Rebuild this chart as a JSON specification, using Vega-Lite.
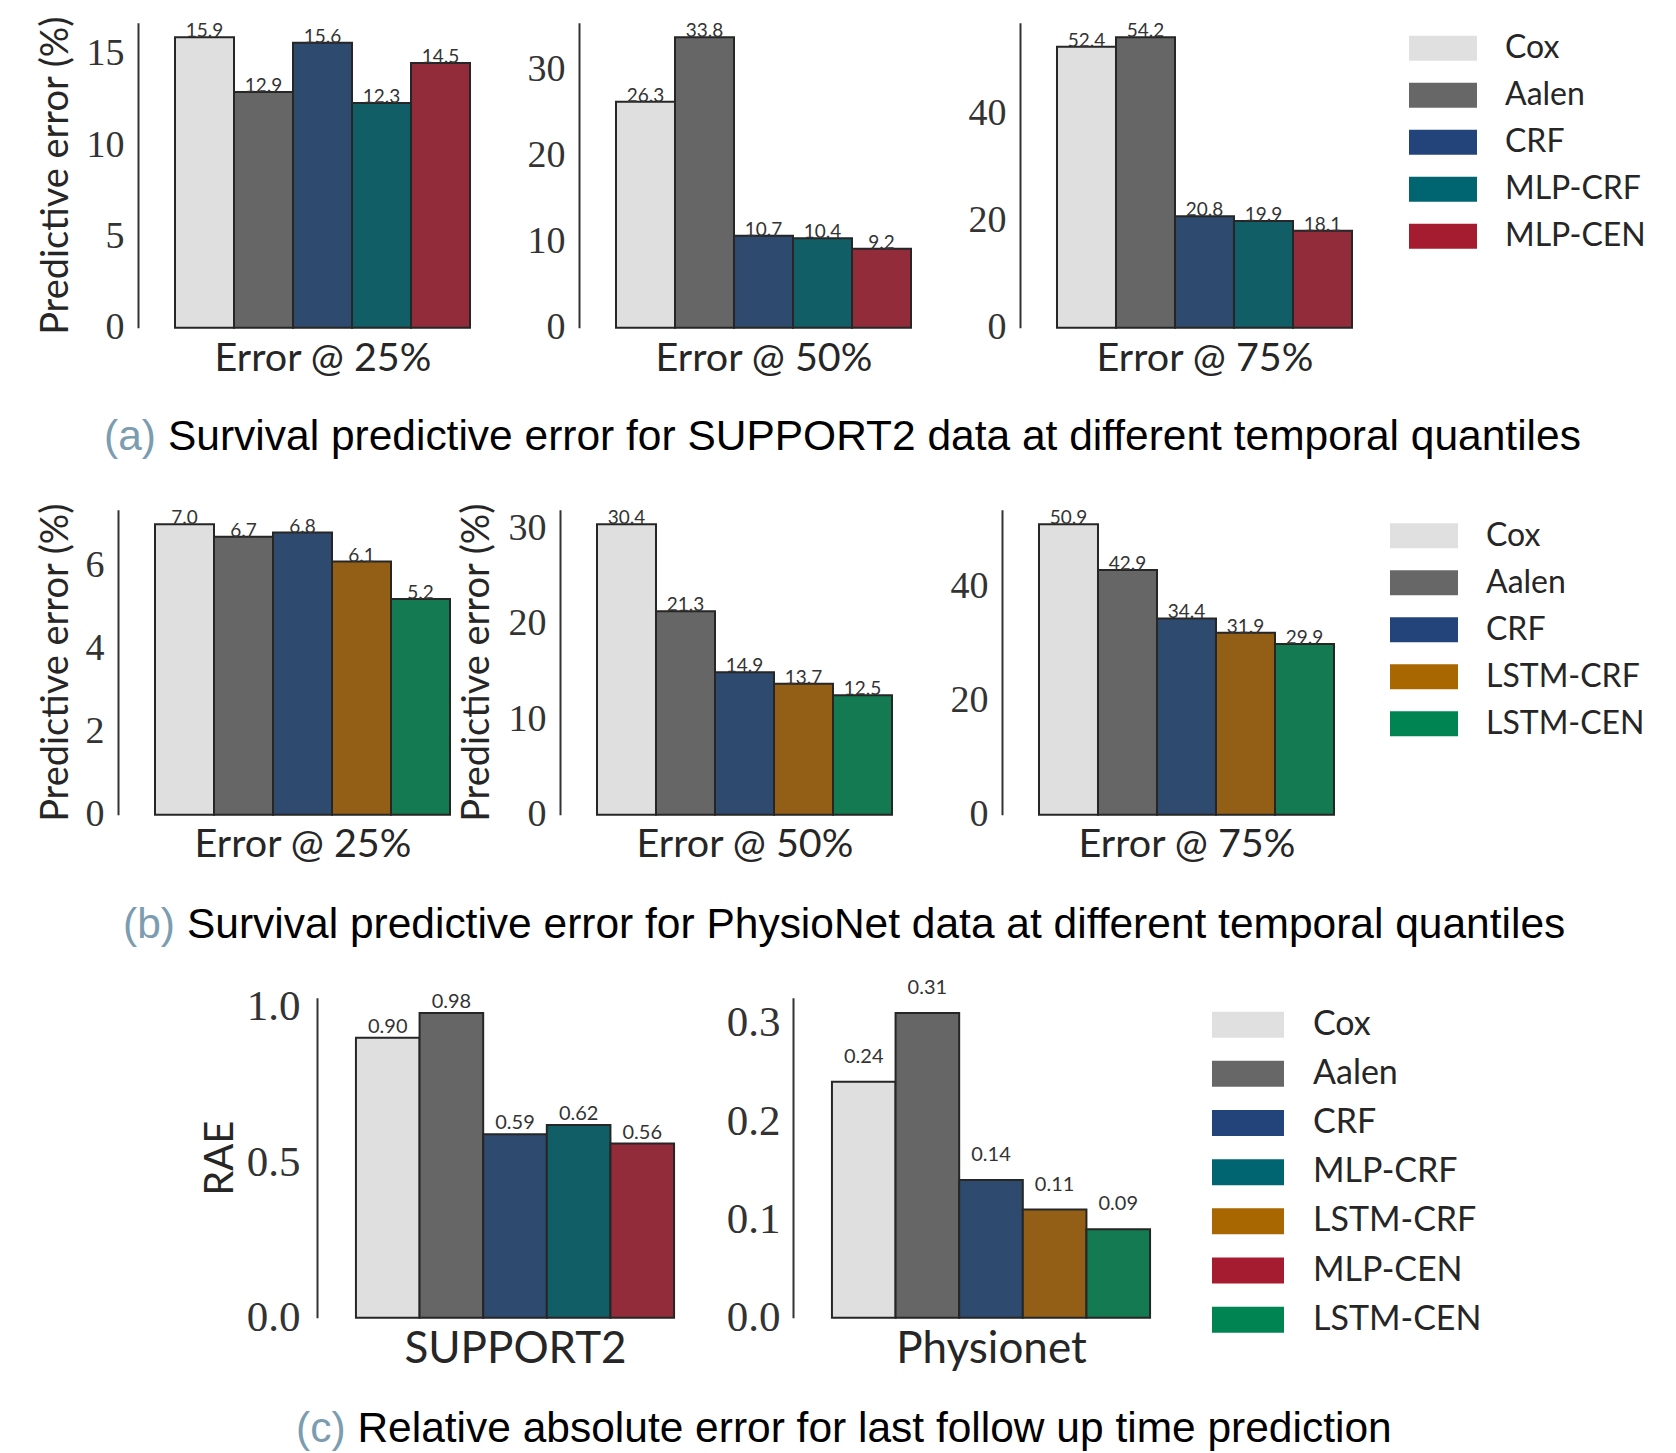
{
  "$schema": "https://vega.github.io/schema/vega-lite/v6.json",
  "background": "white",
  "padding": {"left": 0, "top": 14.7, "right": 0, "bottom": 0},
  "spacing": 0,
  "config": {
    "view": {"stroke": null},
    "axis": {"grid": false, "ticks": false, "tickSize": 0, "labelFont": "Liberation Serif", "labelColor": "#333333", "titleFont": "Lato", "titleFontWeight": "normal", "titleColor": "#262626", "domainColor": "#333333", "domainWidth": 2},
    "axisX": {"labels": false, "domain": false, "minExtent": 0, "maxExtent": 0, "titleBaseline": "alphabetic"},
    "axisY": {"titleBaseline": "alphabetic"}
  },
  "datasets": {
    "a25": [{"model": "Cox", "value": 15.9}, {"model": "Aalen", "value": 12.9}, {"model": "CRF", "value": 15.6}, {"model": "MLP-CRF", "value": 12.3}, {"model": "MLP-CEN", "value": 14.5}],
    "a50": [{"model": "Cox", "value": 26.3}, {"model": "Aalen", "value": 33.8}, {"model": "CRF", "value": 10.7}, {"model": "MLP-CRF", "value": 10.4}, {"model": "MLP-CEN", "value": 9.2}],
    "a75": [{"model": "Cox", "value": 52.4}, {"model": "Aalen", "value": 54.2}, {"model": "CRF", "value": 20.8}, {"model": "MLP-CRF", "value": 19.9}, {"model": "MLP-CEN", "value": 18.1}],
    "b25": [{"model": "Cox", "value": 7.0}, {"model": "Aalen", "value": 6.7}, {"model": "CRF", "value": 6.8}, {"model": "LSTM-CRF", "value": 6.1}, {"model": "LSTM-CEN", "value": 5.2}],
    "b50": [{"model": "Cox", "value": 30.4}, {"model": "Aalen", "value": 21.3}, {"model": "CRF", "value": 14.9}, {"model": "LSTM-CRF", "value": 13.7}, {"model": "LSTM-CEN", "value": 12.5}],
    "b75": [{"model": "Cox", "value": 50.9}, {"model": "Aalen", "value": 42.9}, {"model": "CRF", "value": 34.4}, {"model": "LSTM-CRF", "value": 31.9}, {"model": "LSTM-CEN", "value": 29.9}],
    "cSupport": [{"model": "Cox", "value": 0.90}, {"model": "Aalen", "value": 0.98}, {"model": "CRF", "value": 0.59}, {"model": "MLP-CRF", "value": 0.62}, {"model": "MLP-CEN", "value": 0.56}],
    "cPhysio": [{"model": "Cox", "value": 0.24}, {"model": "Aalen", "value": 0.31}, {"model": "CRF", "value": 0.14}, {"model": "LSTM-CRF", "value": 0.11}, {"model": "LSTM-CEN", "value": 0.09}],
    "legendC": [{"model": "Cox"}, {"model": "Aalen"}, {"model": "CRF"}, {"model": "MLP-CRF"}, {"model": "LSTM-CRF"}, {"model": "MLP-CEN"}, {"model": "LSTM-CEN"}],
    "capA": [{"tag": "(a)", "body": "Survival predictive error for SUPPORT2 data at different temporal quantiles"}],
    "capB": [{"tag": "(b)", "body": "Survival predictive error for PhysioNet data at different temporal quantiles"}],
    "capC": [{"tag": "(c)", "body": "Relative absolute error for last follow up time prediction"}]
  },
  "vconcat": [
    {
      "bounds": "flush",
      "spacing": 72,
      "hconcat": [
        {"width": 66, "height": 1, "data": {"values": []}, "mark": "point", "encoding": {}},
        {
          "width": 369, "height": 305, "data": {"name": "a25"},
          "encoding": {
            "x": {"field": "model", "type": "nominal", "sort": null, "scale": {"domain": ["Cox", "Aalen", "CRF", "MLP-CRF", "MLP-CEN"], "paddingInner": 0, "paddingOuter": 0.627}, "axis": {"title": "Error @ 25%", "titleFontSize": 39.5, "titlePadding": 43}},
            "y": {"field": "value", "type": "quantitative", "scale": {"domain": [0, 16.7], "nice": false}, "axis": {"values": [0, 5, 10, 15], "format": "d", "title": "Predictive error (%)", "titleFontSize": 38, "titlePadding": 18, "labelFontSize": 38, "labelPadding": 14, "minExtent": 53, "maxExtent": 53}}
          },
          "layer": [
            {"mark": {"type": "bar", "stroke": "#262626", "strokeWidth": 2}, "encoding": {"color": {"field": "model", "type": "nominal", "legend": null, "scale": {"domain": ["Cox", "Aalen", "CRF", "MLP-CRF", "LSTM-CRF", "MLP-CEN", "LSTM-CEN"], "range": ["#dfdfdf", "#666666", "#2e4a6e", "#115e67", "#935f17", "#922b3a", "#137a51"]}}}},
            {"mark": {"type": "text", "baseline": "alphabetic", "dy": 0, "font": "Lato", "fontSize": 19, "color": "#333333"}, "encoding": {"text": {"field": "value", "type": "quantitative", "format": ".1f"}}}
          ]
        },
        {
          "width": 369, "height": 305, "data": {"name": "a50"},
          "encoding": {
            "x": {"field": "model", "type": "nominal", "sort": null, "scale": {"domain": ["Cox", "Aalen", "CRF", "MLP-CRF", "MLP-CEN"], "paddingInner": 0, "paddingOuter": 0.627}, "axis": {"title": "Error @ 50%", "titleFontSize": 39.5, "titlePadding": 43}},
            "y": {"field": "value", "type": "quantitative", "scale": {"domain": [0, 35.49], "nice": false}, "axis": {"values": [0, 10, 20, 30], "format": "d", "title": null, "labelFontSize": 38, "labelPadding": 14}}
          },
          "layer": [
            {"mark": {"type": "bar", "stroke": "#262626", "strokeWidth": 2}, "encoding": {"color": {"field": "model", "type": "nominal", "legend": null, "scale": {"domain": ["Cox", "Aalen", "CRF", "MLP-CRF", "LSTM-CRF", "MLP-CEN", "LSTM-CEN"], "range": ["#dfdfdf", "#666666", "#2e4a6e", "#115e67", "#935f17", "#922b3a", "#137a51"]}}}},
            {"mark": {"type": "text", "baseline": "alphabetic", "dy": 0, "font": "Lato", "fontSize": 19, "color": "#333333"}, "encoding": {"text": {"field": "value", "type": "quantitative", "format": ".1f"}}}
          ]
        },
        {
          "width": 369, "height": 305, "data": {"name": "a75"},
          "encoding": {
            "x": {"field": "model", "type": "nominal", "sort": null, "scale": {"domain": ["Cox", "Aalen", "CRF", "MLP-CRF", "MLP-CEN"], "paddingInner": 0, "paddingOuter": 0.627}, "axis": {"title": "Error @ 75%", "titleFontSize": 39.5, "titlePadding": 43}},
            "y": {"field": "value", "type": "quantitative", "scale": {"domain": [0, 56.91], "nice": false}, "axis": {"values": [0, 20, 40], "format": "d", "title": null, "labelFontSize": 38, "labelPadding": 14}}
          },
          "layer": [
            {"mark": {"type": "bar", "stroke": "#262626", "strokeWidth": 2}, "encoding": {"color": {"field": "model", "type": "nominal", "legend": null, "scale": {"domain": ["Cox", "Aalen", "CRF", "MLP-CRF", "LSTM-CRF", "MLP-CEN", "LSTM-CEN"], "range": ["#dfdfdf", "#666666", "#2e4a6e", "#115e67", "#935f17", "#922b3a", "#137a51"]}}}},
            {"mark": {"type": "text", "baseline": "alphabetic", "dy": 0, "font": "Lato", "fontSize": 19, "color": "#333333"}, "encoding": {"text": {"field": "value", "type": "quantitative", "format": ".1f"}}}
          ]
        },
        {
          "width": 2, "height": 239, "data": {"name": "a25"},
          "encoding": {"y": {"field": "model", "type": "nominal", "sort": null, "scale": {"domain": ["Cox", "Aalen", "CRF", "MLP-CRF", "MLP-CEN"], "padding": 0.544}, "axis": null}},
          "layer": [
            {"mark": {"type": "point", "shape": "M-2.72,-1H2.72V1H-2.72Z", "size": 625, "filled": true, "opacity": 1, "strokeWidth": 0, "xOffset": -19}, "encoding": {"fill": {"field": "model", "type": "nominal", "legend": null, "scale": {"domain": ["Cox", "Aalen", "CRF", "MLP-CRF", "LSTM-CRF", "MLP-CEN", "LSTM-CEN"], "range": ["#e0e0e0", "#676767", "#23447a", "#006471", "#a86700", "#a51c30", "#008452"]}}}},
            {"mark": {"type": "text", "align": "left", "baseline": "middle", "dx": 43, "font": "Lato", "fontSize": 32, "color": "#262626"}, "encoding": {"text": {"field": "model"}}}
          ]
        }
      ]
    },
    {
      "width": 1676, "height": 122.5, "data": {"name": "capA"},
      "layer": [
        {"mark": {"type": "text", "align": "left", "baseline": "middle", "dx": -734, "dy": -2.75, "font": "Liberation Sans", "fontSize": 42.5, "color": "#7c9cb0"}, "encoding": {"text": {"field": "tag"}}},
        {"mark": {"type": "text", "align": "left", "baseline": "middle", "dx": -670, "dy": -2.75, "font": "Liberation Sans", "fontSize": 42.5, "color": "#000000"}, "encoding": {"text": {"field": "body"}}}
      ]
    },
    {
      "bounds": "flush",
      "spacing": 73,
      "hconcat": [
        {"width": 45, "height": 1, "data": {"values": []}, "mark": "point", "encoding": {}},
        {
          "width": 369, "height": 305, "data": {"name": "b25"},
          "encoding": {
            "x": {"field": "model", "type": "nominal", "sort": null, "scale": {"domain": ["Cox", "Aalen", "CRF", "LSTM-CRF", "LSTM-CEN"], "paddingInner": 0, "paddingOuter": 0.627}, "axis": {"title": "Error @ 25%", "titleFontSize": 39.5, "titlePadding": 42}},
            "y": {"field": "value", "type": "quantitative", "scale": {"domain": [0, 7.35], "nice": false}, "axis": {"values": [0, 2, 4, 6], "format": "d", "title": "Predictive error (%)", "titleFontSize": 38, "titlePadding": 18, "labelFontSize": 38, "labelPadding": 14, "minExtent": 33, "maxExtent": 33}}
          },
          "layer": [
            {"mark": {"type": "bar", "stroke": "#262626", "strokeWidth": 2}, "encoding": {"color": {"field": "model", "type": "nominal", "legend": null, "scale": {"domain": ["Cox", "Aalen", "CRF", "MLP-CRF", "LSTM-CRF", "MLP-CEN", "LSTM-CEN"], "range": ["#dfdfdf", "#666666", "#2e4a6e", "#115e67", "#935f17", "#922b3a", "#137a51"]}}}},
            {"mark": {"type": "text", "baseline": "alphabetic", "dy": 0, "font": "Lato", "fontSize": 19, "color": "#333333"}, "encoding": {"text": {"field": "value", "type": "quantitative", "format": ".1f"}}}
          ]
        },
        {
          "width": 369, "height": 305, "data": {"name": "b50"},
          "encoding": {
            "x": {"field": "model", "type": "nominal", "sort": null, "scale": {"domain": ["Cox", "Aalen", "CRF", "LSTM-CRF", "LSTM-CEN"], "paddingInner": 0, "paddingOuter": 0.627}, "axis": {"title": "Error @ 50%", "titleFontSize": 39.5, "titlePadding": 42}},
            "y": {"field": "value", "type": "quantitative", "scale": {"domain": [0, 31.92], "nice": false}, "axis": {"values": [0, 10, 20, 30], "format": "d", "title": "Predictive error (%)", "titleFontSize": 38, "titlePadding": 19, "labelFontSize": 38, "labelPadding": 14, "minExtent": 53, "maxExtent": 53}}
          },
          "layer": [
            {"mark": {"type": "bar", "stroke": "#262626", "strokeWidth": 2}, "encoding": {"color": {"field": "model", "type": "nominal", "legend": null, "scale": {"domain": ["Cox", "Aalen", "CRF", "MLP-CRF", "LSTM-CRF", "MLP-CEN", "LSTM-CEN"], "range": ["#dfdfdf", "#666666", "#2e4a6e", "#115e67", "#935f17", "#922b3a", "#137a51"]}}}},
            {"mark": {"type": "text", "baseline": "alphabetic", "dy": 0, "font": "Lato", "fontSize": 19, "color": "#333333"}, "encoding": {"text": {"field": "value", "type": "quantitative", "format": ".1f"}}}
          ]
        },
        {
          "width": 369, "height": 305, "data": {"name": "b75"},
          "encoding": {
            "x": {"field": "model", "type": "nominal", "sort": null, "scale": {"domain": ["Cox", "Aalen", "CRF", "LSTM-CRF", "LSTM-CEN"], "paddingInner": 0, "paddingOuter": 0.627}, "axis": {"title": "Error @ 75%", "titleFontSize": 39.5, "titlePadding": 42}},
            "y": {"field": "value", "type": "quantitative", "scale": {"domain": [0, 53.45], "nice": false}, "axis": {"values": [0, 20, 40], "format": "d", "title": null, "labelFontSize": 38, "labelPadding": 14}}
          },
          "layer": [
            {"mark": {"type": "bar", "stroke": "#262626", "strokeWidth": 2}, "encoding": {"color": {"field": "model", "type": "nominal", "legend": null, "scale": {"domain": ["Cox", "Aalen", "CRF", "MLP-CRF", "LSTM-CRF", "MLP-CEN", "LSTM-CEN"], "range": ["#dfdfdf", "#666666", "#2e4a6e", "#115e67", "#935f17", "#922b3a", "#137a51"]}}}},
            {"mark": {"type": "text", "baseline": "alphabetic", "dy": 0, "font": "Lato", "fontSize": 19, "color": "#333333"}, "encoding": {"text": {"field": "value", "type": "quantitative", "format": ".1f"}}}
          ]
        },
        {
          "width": 2, "height": 240, "data": {"name": "b25"},
          "encoding": {"y": {"field": "model", "type": "nominal", "sort": null, "scale": {"domain": ["Cox", "Aalen", "CRF", "LSTM-CRF", "LSTM-CEN"], "padding": 0.553}, "axis": null}},
          "layer": [
            {"mark": {"type": "point", "shape": "M-2.72,-1H2.72V1H-2.72Z", "size": 625, "filled": true, "opacity": 1, "strokeWidth": 0, "xOffset": -21}, "encoding": {"fill": {"field": "model", "type": "nominal", "legend": null, "scale": {"domain": ["Cox", "Aalen", "CRF", "MLP-CRF", "LSTM-CRF", "MLP-CEN", "LSTM-CEN"], "range": ["#e0e0e0", "#676767", "#23447a", "#006471", "#a86700", "#a51c30", "#008452"]}}}},
            {"mark": {"type": "text", "align": "left", "baseline": "middle", "dx": 41, "font": "Lato", "fontSize": 32, "color": "#262626"}, "encoding": {"text": {"field": "model"}}}
          ]
        }
      ]
    },
    {
      "width": 1676, "height": 113, "data": {"name": "capB"},
      "layer": [
        {"mark": {"type": "text", "align": "left", "baseline": "middle", "dx": -715, "dy": 3.5, "font": "Liberation Sans", "fontSize": 42.5, "color": "#7c9cb0"}, "encoding": {"text": {"field": "tag"}}},
        {"mark": {"type": "text", "align": "left", "baseline": "middle", "dx": -651, "dy": 3.5, "font": "Liberation Sans", "fontSize": 42.5, "color": "#000000"}, "encoding": {"text": {"field": "body"}}}
      ]
    },
    {
      "bounds": "flush",
      "spacing": 80,
      "hconcat": [
        {"width": 237, "height": 1, "data": {"values": []}, "mark": "point", "encoding": {}},
        {
          "width": 396, "height": 320, "data": {"name": "cSupport"},
          "encoding": {
            "x": {"field": "model", "type": "nominal", "sort": null, "scale": {"domain": ["Cox", "Aalen", "CRF", "MLP-CRF", "MLP-CEN"], "paddingInner": 0, "paddingOuter": 0.612}, "axis": {"title": "SUPPORT2", "titleFontSize": 44, "titlePadding": 45}},
            "y": {"field": "value", "type": "quantitative", "scale": {"domain": [0, 1.029], "nice": false}, "axis": {"values": [0, 0.5, 1], "format": ".1f", "title": "RAE", "titleFontSize": 40, "titlePadding": 15, "labelFontSize": 43, "labelPadding": 17, "minExtent": 70, "maxExtent": 70}}
          },
          "layer": [
            {"mark": {"type": "bar", "stroke": "#262626", "strokeWidth": 2}, "encoding": {"color": {"field": "model", "type": "nominal", "legend": null, "scale": {"domain": ["Cox", "Aalen", "CRF", "MLP-CRF", "LSTM-CRF", "MLP-CEN", "LSTM-CEN"], "range": ["#dfdfdf", "#666666", "#2e4a6e", "#115e67", "#935f17", "#922b3a", "#137a51"]}}}},
            {"mark": {"type": "text", "baseline": "alphabetic", "dy": -5, "font": "Lato", "fontSize": 20, "color": "#333333"}, "encoding": {"text": {"field": "value", "type": "quantitative", "format": ".2f"}}}
          ]
        },
        {
          "width": 396, "height": 320, "data": {"name": "cPhysio"},
          "encoding": {
            "x": {"field": "model", "type": "nominal", "sort": null, "scale": {"domain": ["Cox", "Aalen", "CRF", "LSTM-CRF", "LSTM-CEN"], "paddingInner": 0, "paddingOuter": 0.612}, "axis": {"title": "Physionet", "titleFontSize": 44, "titlePadding": 45}},
            "y": {"field": "value", "type": "quantitative", "scale": {"domain": [0, 0.3255], "nice": false}, "axis": {"values": [0, 0.1, 0.2, 0.3], "format": ".1f", "title": null, "labelFontSize": 43, "labelPadding": 13}}
          },
          "layer": [
            {"mark": {"type": "bar", "stroke": "#262626", "strokeWidth": 2}, "encoding": {"color": {"field": "model", "type": "nominal", "legend": null, "scale": {"domain": ["Cox", "Aalen", "CRF", "MLP-CRF", "LSTM-CRF", "MLP-CEN", "LSTM-CEN"], "range": ["#dfdfdf", "#666666", "#2e4a6e", "#115e67", "#935f17", "#922b3a", "#137a51"]}}}},
            {"mark": {"type": "text", "baseline": "alphabetic", "dy": -19, "font": "Lato", "fontSize": 20, "color": "#333333"}, "encoding": {"text": {"field": "value", "type": "quantitative", "format": ".2f"}}}
          ]
        },
        {
          "width": 2, "height": 349, "data": {"name": "legendC"},
          "encoding": {"y": {"field": "model", "type": "nominal", "sort": null, "scale": {"domain": ["Cox", "Aalen", "CRF", "MLP-CRF", "LSTM-CRF", "MLP-CEN", "LSTM-CEN"], "padding": 0.549}, "axis": null}},
          "layer": [
            {"mark": {"type": "point", "shape": "M-2.77,-1H2.77V1H-2.77Z", "size": 676, "filled": true, "opacity": 1, "strokeWidth": 0, "xOffset": -22}, "encoding": {"fill": {"field": "model", "type": "nominal", "legend": null, "scale": {"domain": ["Cox", "Aalen", "CRF", "MLP-CRF", "LSTM-CRF", "MLP-CEN", "LSTM-CEN"], "range": ["#e0e0e0", "#676767", "#23447a", "#006471", "#a86700", "#a51c30", "#008452"]}}}},
            {"mark": {"type": "text", "align": "left", "baseline": "middle", "dx": 43, "font": "Lato", "fontSize": 34, "color": "#262626"}, "encoding": {"text": {"field": "model"}}}
          ]
        }
      ]
    },
    {
      "width": 1676, "height": 48, "data": {"name": "capC"},
      "layer": [
        {"mark": {"type": "text", "align": "left", "baseline": "middle", "dx": -542, "dy": 33, "font": "Liberation Sans", "fontSize": 42.5, "color": "#7c9cb0"}, "encoding": {"text": {"field": "tag"}}},
        {"mark": {"type": "text", "align": "left", "baseline": "middle", "dx": -480.6, "dy": 33, "font": "Liberation Sans", "fontSize": 42.5, "color": "#000000"}, "encoding": {"text": {"field": "body"}}}
      ]
    }
  ]
}
